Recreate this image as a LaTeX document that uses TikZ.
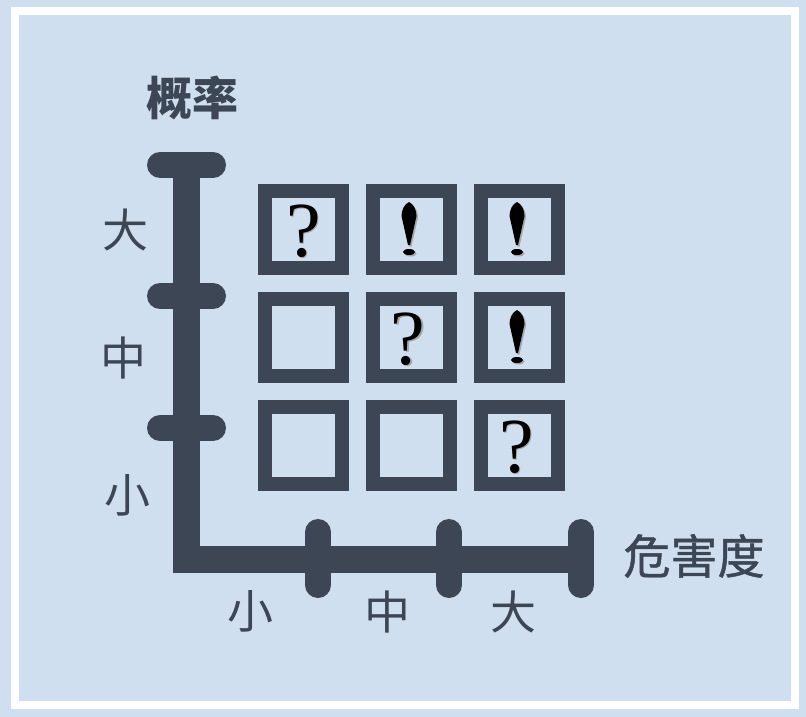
\documentclass[tikz,border=0pt]{standalone}
\usepackage{fontspec}
\newfontfamily\cjk{Noto Sans CJK SC}
\newfontfamily\cjkm[FakeBold=1]{Noto Sans CJK SC}
\newfontfamily\serifq{Liberation Serif}
\definecolor{bgblue}{RGB}{208,223,239}
\definecolor{dark}{RGB}{60,70,84}
\tikzset{
  axisbar/.style={draw=dark,line width=27pt},
  tickbar/.style={draw=dark,line width=26pt,line cap=round},
  cellbox/.style={draw=dark,line width=14pt},
  lbl/.style={text=dark,font=\cjk\fontsize{46}{46}\selectfont,inner sep=0pt},
  lblm/.style={text=dark,font=\cjkm\fontsize{47}{47}\selectfont,inner sep=0pt},
  title/.style={text=dark,font=\cjk\bfseries\fontsize{46}{46}\selectfont,inner sep=0pt},
  qmark/.style={text=black,font=\serifq\fontsize{78}{78}\selectfont,inner sep=0pt},
  qshadow/.style={text=black!35,font=\serifq\fontsize{78}{78}\selectfont,inner sep=0pt},
}
\newcommand{\exclam}[2]{%
  \begin{scope}[shift={(#1+1.5,#2+1.5)}]
    \fill[black!35] (0,-27) .. controls (4.5,-25) and (7.5,-19) .. (7.5,-13) -- (1,16) -- (-1,16) -- (-7.5,-13) .. controls (-7.5,-19) and (-4.5,-25) .. (0,-27) -- cycle;
    \fill[black!35] (0,23) ellipse [x radius=6, y radius=3];
  \end{scope}
  \begin{scope}[shift={(#1,#2)}]
    \fill[black] (0,-27) .. controls (4.5,-25) and (7.5,-19) .. (7.5,-13) -- (1,16) -- (-1,16) -- (-7.5,-13) .. controls (-7.5,-19) and (-4.5,-25) .. (0,-27) -- cycle;
    \fill[black] (0,23) ellipse [x radius=6, y radius=3];
  \end{scope}}
\newcommand{\question}[3]{%
  \node[qshadow] at (#1+1.5,#2+1.5) {?};
  \node[qmark] (#3) at (#1,#2) {?};}
\begin{document}
\begin{tikzpicture}[x=1pt,y=-1pt]
  \useasboundingbox (0,0) rectangle (806,717);
  \fill[bgblue] (0,0) rectangle (806,717);
  \draw[white,line width=8pt] (15,11.5) rectangle (795,705);

  % axes
  \draw[axisbar] (186.5,165) -- (186.5,573);
  \draw[axisbar] (173,559.5) -- (581,559.5);
  \foreach \y in {165,296,428} \draw[tickbar] (160,\y) -- (213,\y);
  \foreach \x in {318,449,581} \draw[tickbar] (\x,532) -- (\x,585);

  % grid cells
  \foreach \cx in {303.5,411.5,519.5}
    \foreach \cy in {229.5,337.5,445}
      \draw[cellbox] (\cx-38.5,\cy-38.5) rectangle (\cx+38.5,\cy+38.5);

  % symbols
  \question{303.5}{231}{q1}
  \question{408}{339}{q2}
  \question{516.5}{447}{q3}
  \exclam{409}{229}
  \exclam{517}{229}
  \exclam{517}{337}

  % labels
  \node[title] (prob) at (192,98) {概率};
  \node[lblm] (harm) at (694,556) {危害度};
  \node[lbl] (py3) at (125,230) {大};
  \node[lbl] (py2) at (123,358) {中};
  \node[lbl] (py1) at (127,495) {小};
  \node[lbl] (hx1) at (250,611) {小};
  \node[lbl] (hx2) at (387,612) {中};
  \node[lbl] (hx3) at (513,612) {大};
\end{tikzpicture}
\end{document}
